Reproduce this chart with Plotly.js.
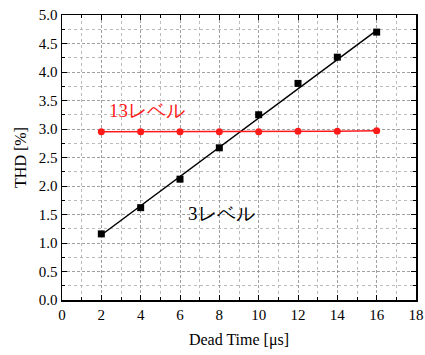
<!DOCTYPE html>
<html><head><meta charset="utf-8">
<script src="https://cdn.plot.ly/plotly-3.0.1.min.js"></script>
<style>body{margin:0;background:#fff}#c{width:425px;height:355px}</style>
</head><body><div id="c"></div>
<script>
const deadTime = [2, 4, 6, 8, 10, 12, 14, 16];
const thd3 = [1.16, 1.62, 2.12, 2.67, 3.25, 3.80, 4.26, 4.70];
const thd13 = [2.95, 2.95, 2.95, 2.95, 2.95, 2.96, 2.96, 2.97];
const fitX = [2, 16];
const fitY = [1.14, 4.73];
const label13 = '13\u30EC\u30D9\u30EB';
const label3 = '3\u30EC\u30D9\u30EB';
const SERIF = 'Liberation Serif';

const traces = [
  {x: fitX, y: fitY, mode: 'lines', line: {color: '#000', width: 1.5}},
  {x: deadTime, y: thd3, mode: 'markers', marker: {symbol: 'square', size: 7, color: '#000'}},
  {x: deadTime, y: thd13, mode: 'lines+markers', line: {color: '#ff1a1a', width: 1.5},
   marker: {symbol: 'circle', size: 7, color: '#ff1a1a'}}
];
function axis(extra) {
  return Object.assign({
    showline: true, linecolor: '#000', linewidth: 1.5, mirror: 'ticks',
    ticks: 'inside', ticklen: 5, tickcolor: '#000', tickwidth: 1,
    showgrid: true, gridcolor: '#888', griddash: '3px,2px', gridwidth: 0.8,
    zeroline: false, tickfont: {family: SERIF, size: 15, color: '#000'}
  }, extra);
}
const layout = {
  width: 425, height: 355, showlegend: false,
  font: {family: SERIF, size: 15, color: '#000'},
  margin: {l: 62, r: 9, t: 15, b: 55},
  paper_bgcolor: '#fff', plot_bgcolor: '#fff',
  xaxis: axis({
    range: [0, 18], dtick: 2, tick0: 0,
    minor: {dtick: 1, showgrid: true, gridcolor: '#aaa', griddash: 'dot', gridwidth: 0.8, ticks: 'inside', ticklen: 3, tickcolor: '#000'},
    title: {text: 'Dead Time [\u03BCs]', font: {family: SERIF, size: 16, color: '#000'}, standoff: 12}
  }),
  yaxis: axis({
    range: [0, 5], dtick: 0.5, tick0: 0, tickformat: '.1f',
    minor: {dtick: 0.25, showgrid: true, gridcolor: '#aaa', griddash: 'dot', gridwidth: 0.8, ticks: 'inside', ticklen: 3, tickcolor: '#000'},
    title: {text: 'THD [%]', font: {family: SERIF, size: 16, color: '#000'}, standoff: 8}
  }),
  annotations: [
    {x: 4.3, y: 3.33, xref: 'x', yref: 'y', text: label13, showarrow: false,
     font: {family: SERIF, size: 19, color: '#ff1a1a'}},
    {x: 8.1, y: 1.52, xref: 'x', yref: 'y', text: label3, showarrow: false,
     font: {family: SERIF, size: 19, color: '#000'}}
  ]
};
Plotly.newPlot('c', traces, layout, {staticPlot: true});
</script></body></html>
